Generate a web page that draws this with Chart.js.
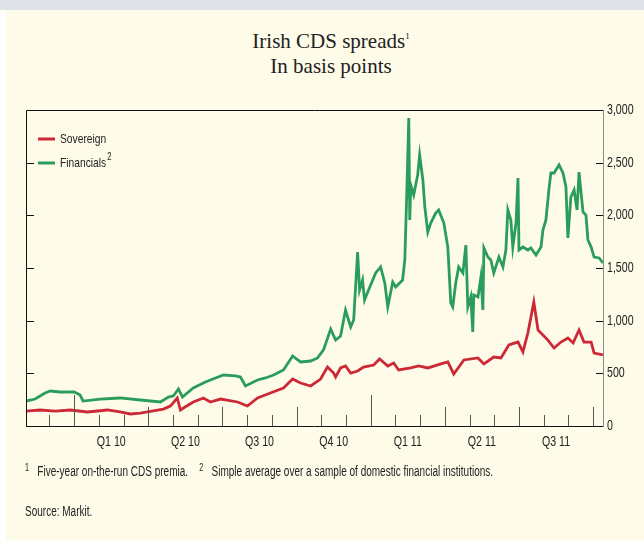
<!DOCTYPE html>
<html>
<head>
<meta charset="utf-8">
<script src="https://cdn.jsdelivr.net/npm/chart.js@4.4.0/dist/chart.umd.min.js"></script>
<style>
    body { margin: 0; width: 644px; height: 540px; position: relative; overflow: hidden; background: #ffffff; }
    .band { position: absolute; left: 0; top: 0; width: 644px; height: 10px; background: #dfe3e8; }
    .panel { position: absolute; left: 6px; top: 10px; width: 638px; height: 530px; background: #fffbe9; }
    #cdsChart { position: absolute; left: 0; top: 0; }
    .title { position: absolute; left: 0; top: 24px; width: 662px; text-align: center;
             font-family: 'Liberation Serif', serif; font-size: 21px; line-height: 25px; color: #222; }
    .title sup { font-size: 9px; vertical-align: 9px; }
    .note { position: absolute; left: 25px; font-family: 'Liberation Sans', Arial, sans-serif;
            font-size: 14px; color: #222; white-space: nowrap; transform: scaleX(0.715); transform-origin: 0 0; }
    .note sup { font-size: 10px; vertical-align: 5px; }
</style>
</head>
<body>
<div class="band"></div>
<div class="panel"></div>
<div class="title">Irish CDS spreads<sup>1</sup><br>In basis points</div>
<canvas id="cdsChart" width="644" height="540"></canvas>
<div class="note" style="top:462px;"><sup>1</sup>&nbsp;&nbsp; Five-year on-the-run CDS premia.&nbsp;&nbsp;&nbsp; <sup>2</sup>&nbsp;&nbsp; Simple average over a sample of domestic financial institutions.</div>
<div class="note" style="top:503px;">Source: Markit.</div>
<script>
// x values are months since 1 Nov 2009
const finMonths = [0.05, 0.42, 0.82, 1.03, 1.43, 2.0, 2.24, 2.36, 3.05, 3.86, 4.67, 5.49, 5.81, 6.01, 6.22, 6.38,
    6.82, 7.31, 7.72, 8.04, 8.53, 8.73, 8.93, 9.42, 9.74, 10.07, 10.47, 10.84, 11.16, 11.57, 11.85, 12.09,
    12.38, 12.58, 12.78, 12.98, 13.19, 13.31, 13.47, 13.55, 13.67, 13.75, 13.88, 14.2, 14.4, 14.57, 14.69,
    14.89, 15.01, 15.29, 15.38, 15.46, 15.54, 15.58, 15.62, 15.74, 15.9, 15.98, 16.11, 16.19, 16.31, 16.43,
    16.63, 16.75, 16.96, 17.12, 17.24, 17.32, 17.44, 17.56, 17.73, 17.85, 17.93, 18.05, 18.13, 18.17, 18.34,
    18.46, 18.54, 18.58, 18.74, 18.86, 18.98, 19.19, 19.35, 19.47, 19.55, 19.67, 19.75, 19.88, 19.96, 20.0,
    20.16, 20.36, 20.48, 20.69, 20.89, 20.97, 21.09, 21.21, 21.29, 21.42, 21.62, 21.78, 21.9, 21.98, 22.1,
    22.23, 22.35, 22.43, 22.59, 22.71, 22.79, 22.92, 23.04, 23.24, 23.4];
const finValues = [237, 256, 313, 332, 323, 323, 294, 237, 256, 266, 247, 228, 275, 285, 351, 275,
    361, 418, 456, 484, 475, 465, 380, 437, 456, 484, 532, 665, 608, 617, 646, 722,
    921, 816, 854, 1101, 940, 1006, 1652, 1291, 1386, 1196, 1272, 1453, 1510, 1358, 1130,
    1367, 1320, 1386, 1576, 2212, 2924, 1956, 2288, 2193, 2383, 2573, 2336, 2079, 1842, 1927,
    2022, 2051, 1927, 1699, 1168, 1130, 1358, 1510, 1453, 1718, 1130, 1225, 892, 1244, 1225,
    1415, 1101, 1690, 1604, 1576, 1453, 1604, 1510, 1671, 2051, 1956, 1699, 1927, 2355, 1671,
    1699, 1671, 1690, 1623, 1699, 1861, 1956, 2241, 2402, 2402, 2478, 2402, 2269, 1785, 2174,
    2241, 2051, 2411, 2032, 2003, 1766, 1699, 1604, 1595, 1548];

const sovMonths = [0.05, 0.62, 1.23, 1.84, 2.53, 3.34, 3.86, 4.27, 4.67, 4.96, 5.61, 5.89, 5.97, 6.17, 6.3, 6.42,
    6.82, 7.23, 7.51, 7.92, 8.61, 9.01, 9.42, 9.94, 10.47, 10.84, 11.16, 11.57, 11.97, 12.25, 12.5, 12.58,
    12.78, 12.98, 13.19, 13.47, 13.71, 14.12, 14.36, 14.69, 14.93, 15.13, 15.62, 15.94, 16.31, 16.84, 17.12,
    17.36, 17.77, 18.34, 18.58, 18.98, 19.27, 19.59, 19.96, 20.16, 20.36, 20.6, 20.77, 20.89, 21.17, 21.42,
    21.7, 21.98, 22.19, 22.43, 22.63, 22.92, 23.04, 23.4];
const sovValues = [142, 152, 142, 152, 133, 152, 133, 114, 123, 133, 161, 190, 209, 266, 152, 171,
    228, 266, 228, 256, 228, 190, 266, 313, 361, 446, 408, 380, 446, 560, 503, 465,
    551, 570, 503, 522, 560, 579, 636, 570, 598, 532, 551, 570, 551, 589, 608,
    494, 627, 646, 589, 655, 646, 769, 797, 703, 883, 1177, 911, 883, 816, 740,
    797, 835, 788, 911, 797, 797, 693, 674];

const quarterLabels = ['Q1 10', 'Q2 10', 'Q3 10', 'Q4 10', 'Q1 11', 'Q2 11', 'Q3 11'];
const quarterStarts = [2, 5, 8, 11, 14, 17, 20];
const yearStarts = [2, 14];
const yTicks = [0, 500, 1000, 1500, 2000, 2500, 3000];

const labelFont = "'Liberation Sans', Arial, sans-serif";

// text squeezed sideways, like the condensed face of the original
function narrowText(ctx, text, x, y, size, align) {
    ctx.save();
    ctx.font = size + 'px ' + labelFont;
    ctx.textAlign = align;
    ctx.textBaseline = 'middle';
    ctx.translate(x, y);
    ctx.scale(0.76, 1);
    ctx.fillText(text, 0, 0);
    const w = ctx.measureText(text).width * 0.76;
    ctx.restore();
    return w;
}

// frame, inward ticks, axis labels and the legend
const framePlugin = {
    id: 'frame',
    afterDraw(chart) {
        const ctx = chart.ctx;
        const a = chart.chartArea;
        const xs = chart.scales.x;
        const ys = chart.scales.y;
        ctx.save();
        ctx.lineWidth = 1;
        ctx.strokeStyle = '#111';
        ctx.beginPath();
        ctx.moveTo(a.left + 0.5, a.bottom + 0.5);
        ctx.lineTo(a.left + 0.5, a.top + 0.5);
        ctx.lineTo(a.right, a.top + 0.5);
        ctx.moveTo(a.left, a.bottom + 0.5);
        ctx.lineTo(a.right, a.bottom + 0.5);
        ctx.stroke();
        ctx.strokeStyle = '#8a8a8a';
        ctx.beginPath();
        ctx.moveTo(a.right + 0.5, a.top);
        ctx.lineTo(a.right + 0.5, a.bottom + 1);
        ctx.stroke();

        // y ticks on both sides, pointing in, labels on the right
        ctx.strokeStyle = '#111';
        ctx.beginPath();
        yTicks.forEach(v => {
            if (v === 0 || v === 3000) return;
            const y = Math.round(ys.getPixelForValue(v)) + 0.5;
            ctx.moveTo(a.left, y);
            ctx.lineTo(a.left + 8, y);
            ctx.moveTo(a.right - 7, y);
            ctx.lineTo(a.right, y);
        });
        ctx.stroke();
        ctx.fillStyle = '#222';
        yTicks.forEach(v => {
            narrowText(ctx, v.toLocaleString('en-US'), a.right + 4, ys.getPixelForValue(v), 14, 'left');
        });

        // monthly ticks on the time axis, quarter labels between them
        ctx.strokeStyle = '#555';
        ctx.beginPath();
        for (let m = 1; m <= 23; m++) {
            let h = 11;
            if (yearStarts.includes(m)) h = 31;
            else if (quarterStarts.includes(m) || m === 23) h = 19;
            const x = Math.round(xs.getPixelForValue(m)) + 0.5;
            ctx.moveTo(x, a.bottom);
            ctx.lineTo(x, a.bottom - h);
        }
        ctx.stroke();
        quarterLabels.forEach((q, i) => {
            narrowText(ctx, q, xs.getPixelForValue(quarterStarts[i] + 1.5), a.bottom + 16, 14, 'center');
        });

        // legend
        const items = [
            { text: 'Sovereign', sup: '', color: '#cc2937', y: 139 },
            { text: 'Financials', sup: '2', color: '#2a9d5c', y: 163 }
        ];
        items.forEach(it => {
            ctx.strokeStyle = it.color;
            ctx.lineWidth = 3;
            ctx.beginPath();
            ctx.moveTo(38, it.y);
            ctx.lineTo(55, it.y);
            ctx.stroke();
            const w = narrowText(ctx, it.text, 60, it.y, 13.5, 'left');
            if (it.sup) narrowText(ctx, it.sup, 61 + w, it.y - 6, 10, 'left');
        });
        ctx.restore();
    }
};

const ctx = document.getElementById('cdsChart').getContext('2d');
new Chart(ctx, {
    type: 'line',
    data: {
        datasets: [{
            label: 'Sovereign',
            data: sovMonths.map((m, i) => ({ x: m, y: sovValues[i] })),
            borderColor: '#cc2937',
            borderWidth: 2.8,
            pointRadius: 0,
            tension: 0
        }, {
            label: 'Financials',
            data: finMonths.map((m, i) => ({ x: m, y: finValues[i] })),
            borderColor: '#2a9d5c',
            borderWidth: 2.8,
            pointRadius: 0,
            tension: 0
        }]
    },
    options: {
        responsive: false,
        animation: false,
        layout: { padding: { left: 26, top: 110, right: 0, bottom: 0 } },
        plugins: {
            legend: { display: false },
            tooltip: { enabled: false }
        },
        scales: {
            x: {
                type: 'linear',
                min: 0.05,
                max: 23.4,
                grid: { display: false },
                border: { display: false },
                ticks: { display: false },
                afterFit: scale => { scale.height = 114; }
            },
            y: {
                position: 'right',
                min: 0,
                max: 3000,
                grid: { display: false },
                border: { display: false },
                ticks: { display: false, stepSize: 500 },
                afterFit: scale => { scale.width = 41; }
            }
        }
    },
    plugins: [framePlugin]
});
</script>
</body>
</html>
